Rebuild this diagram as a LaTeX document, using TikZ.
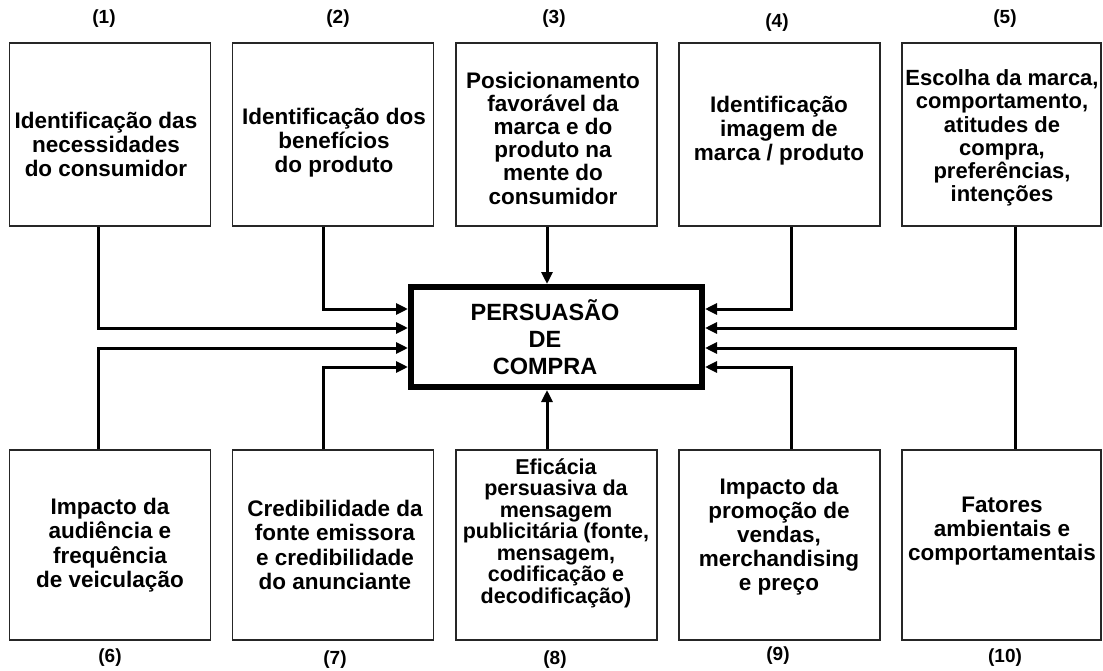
\documentclass[tikz,border=0pt]{standalone}
\usepackage{fontspec}
\setmainfont{Liberation Sans}
\usetikzlibrary{arrows.meta}
\begin{document}
\begin{tikzpicture}[x=1pt,y=-1pt,
  box/.style={draw=black!85,line width=1.6pt,minimum width=201pt,inner sep=0pt,fill=white},
  topbox/.style={box,minimum height=183pt},
  botbox/.style={box,minimum height=190pt},
  txt/.style={align=center,font=\fontsize{22.5}{24}\selectfont\bfseries,inner sep=0pt},
  txtt/.style={align=center,font=\fontsize{22.5}{23.2}\selectfont\bfseries,inner sep=0pt},
  num/.style={font=\fontsize{19}{22}\selectfont\bfseries,inner sep=0pt},
  arr/.style={line width=3pt,-{Triangle[length=12pt,width=11pt]}}]
\useasboundingbox (0,0) rectangle (1103,671);
% boxes top
\node[topbox] (b1) at (110,134.5) {};
\node[topbox] (b2) at (333,134.5) {};
\node[topbox] (b3) at (556.5,134.5) {};
\node[topbox] (b4) at (779.5,134.5) {};
\node[topbox,minimum width=199pt] (b5) at (1001.5,134.5) {};
% boxes bottom
\node[botbox] (b6) at (110,545) {};
\node[botbox] (b7) at (333,545) {};
\node[botbox] (b8) at (556.5,545) {};
\node[botbox] (b9) at (779.5,545) {};
\node[botbox,minimum width=199pt] (b10) at (1001.5,545) {};
% central
\node[draw=black,line width=6pt,minimum width=291pt,minimum height=100pt,inner sep=0pt] (c) at (556.5,337) {};
\node[align=center,inner sep=0pt,font=\fontsize{23.5}{27}\selectfont\bfseries] (ct) at (545,337) {PERSUASÃO\\DE\\COMPRA};
% texts
\node[txt] (t1) at (106,144) {Identificação das\\necessidades\\do consumidor};
\node[txt] (t2) at (334,143) {Identificação dos\\benefícios\\do produto};
\node[txtt] (t3) at (553,138) {Posicionamento\\favorável da\\marca e do\\produto na\\mente do\\consumidor};
\node[txt] (t4) at (779,131) {Identificação\\imagem de\\marca / produto};
\node[txtt,font=\fontsize{22}{23.3}\selectfont\bfseries] (t5) at (1002,138) {Escolha da marca,\\comportamento,\\atitudes de\\compra,\\preferências,\\intenções};
\node[txt,font=\fontsize{22.5}{24.5}\selectfont\bfseries] (t6) at (110,545) {Impacto da\\audiência e\\frequência\\de veiculação};
\node[txt,font=\fontsize{22.5}{24.5}\selectfont\bfseries] (t7) at (335,545) {Credibilidade da\\fonte emissora\\e credibilidade\\do anunciante};
\node[txt,font=\fontsize{21.5}{21.5}\selectfont\bfseries] (t8) at (556,533) {Eficácia\\persuasiva da\\mensagem\\publicitária (fonte,\\mensagem,\\codificação e\\decodificação)};
\node[txt,font=\fontsize{22.5}{24}\selectfont\bfseries] (t9) at (779,537) {Impacto da\\promoção de\\vendas,\\merchandising\\e preço};
\node[txt] (t10) at (1002,531) {Fatores\\ambientais e\\comportamentais};
% numbers
\node[num] (n1) at (104,19) {(1)};
\node[num] (n2) at (338,19) {(2)};
\node[num] (n3) at (554,19) {(3)};
\node[num] (n4) at (777,23) {(4)};
\node[num] (n5) at (1005,19) {(5)};
\node[num] (n6) at (110,658) {(6)};
\node[num] (n7) at (335,660) {(7)};
\node[num] (n8) at (555,660) {(8)};
\node[num] (n9) at (778,656) {(9)};
\node[num] (n10) at (1005,658) {(10)};
% connector coordinates
\coordinate (X1) at (98,0);
\coordinate (X2) at (323,0);
\coordinate (X3) at (547,0);
\coordinate (X4) at (791,0);
\coordinate (X5) at (1015,0);
\coordinate (Ya) at (0,309);
\coordinate (Yb) at (0,328);
\coordinate (Yc) at (0,348);
\coordinate (Yd) at (0,367);
% connectors
\draw[arr] (b1.south -| X1) |- (c.west |- Yb);
\draw[arr] (b2.south -| X2) |- (c.west |- Ya);
\draw[arr] (b3.south -| X3) -- (c.north -| X3);
\draw[arr] (b4.south -| X4) |- (c.east |- Ya);
\draw[arr] (b5.south -| X5) |- (c.east |- Yb);
\draw[arr] (b6.north -| X1) |- (c.west |- Yc);
\draw[arr] (b7.north -| X2) |- (c.west |- Yd);
\draw[arr] (b8.north -| X3) -- (c.south -| X3);
\draw[arr] (b9.north -| X4) |- (c.east |- Yd);
\draw[arr] (b10.north -| X5) |- (c.east |- Yc);
\end{tikzpicture}
\end{document}
